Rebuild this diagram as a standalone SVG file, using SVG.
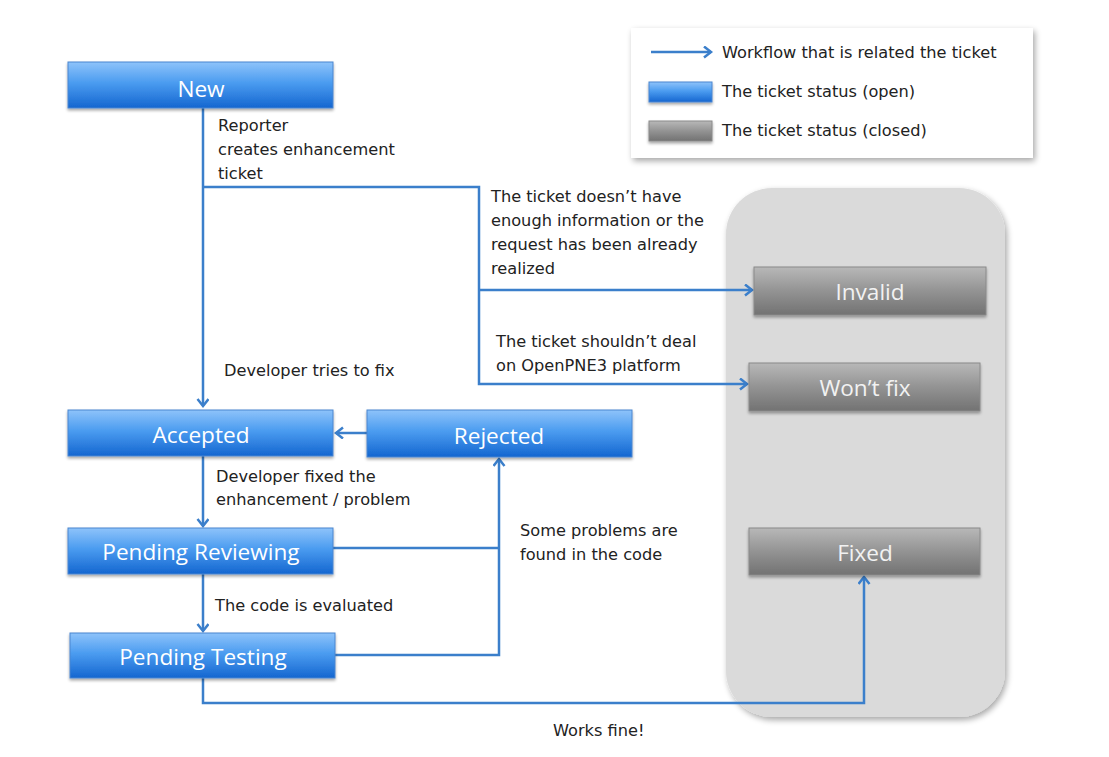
<svg xmlns="http://www.w3.org/2000/svg" width="1109" height="757" viewBox="0 0 1109 757">
<style>
  .lbl { font-family: "DejaVu Sans", "Liberation Sans", sans-serif; font-size: 16.2px; fill: #222; }
  .btxt { font-family: "Open Sans", "Liberation Sans", sans-serif; font-size: 22.6px; fill: #ffffff; text-anchor: middle; }
  .gtxt { font-family: "Open Sans", "Liberation Sans", sans-serif; font-size: 22.6px; fill: #f2f2f2; text-anchor: middle; }
  .blue { fill: url(#gBlue); stroke: #4a86d0; stroke-width: 1; filter: url(#sh); }
  .gray { fill: url(#gGray); stroke: #8a8a8a; stroke-width: 1; filter: url(#sh); }
  .conn { fill: none; stroke: #3b7fcb; stroke-width: 2.5; }
</style>
<defs>
  <linearGradient id="gBlue" x1="0" y1="0" x2="0" y2="1">
    <stop offset="0" stop-color="#8ec3fa"/>
    <stop offset="0.45" stop-color="#4b9cf0"/>
    <stop offset="1" stop-color="#1466d0"/>
  </linearGradient>
  <linearGradient id="gGray" x1="0" y1="0" x2="0" y2="1">
    <stop offset="0" stop-color="#b8b8b8"/>
    <stop offset="0.5" stop-color="#939393"/>
    <stop offset="1" stop-color="#727272"/>
  </linearGradient>
  <filter id="sh" x="-10%" y="-20%" width="120%" height="150%">
    <feGaussianBlur in="SourceAlpha" stdDeviation="1.5"/>
    <feOffset dx="0" dy="2" result="b"/>
    <feComponentTransfer><feFuncA type="linear" slope="0.35"/></feComponentTransfer>
    <feMerge><feMergeNode/><feMergeNode in="SourceGraphic"/></feMerge>
  </filter>
  <filter id="sh2" x="-10%" y="-10%" width="125%" height="130%">
    <feGaussianBlur in="SourceAlpha" stdDeviation="3"/>
    <feOffset dx="2" dy="3" result="b"/>
    <feComponentTransfer><feFuncA type="linear" slope="0.35"/></feComponentTransfer>
    <feMerge><feMergeNode/><feMergeNode in="SourceGraphic"/></feMerge>
  </filter>
  <marker id="arr" markerWidth="12" markerHeight="14" refX="9" refY="6" orient="auto" markerUnits="userSpaceOnUse">
    <path d="M2,0.5 L9,6 L2,11.5" fill="none" stroke="#3b7fcb" stroke-width="2.5"/>
  </marker>
</defs>

<rect width="1109" height="757" fill="#ffffff"/>

<!-- closed-status container -->
<g id="closed-area">
  <rect x="726" y="188" width="279" height="529" rx="46" ry="46" fill="#dadada" filter="url(#sh2)"/>
</g>

<!-- legend -->
<g id="legend">
  <rect x="631" y="28" width="402" height="130" fill="#ffffff" filter="url(#sh2)"/>
  <path d="M651,52 H711" class="conn" marker-end="url(#arr)"/>
  <text class="lbl" x="722" y="58">Workflow that is related the ticket</text>
  <rect x="649" y="82" width="63" height="20" class="blue"/>
  <text class="lbl" x="722" y="97">The ticket status (open)</text>
  <rect x="649" y="121" width="63" height="20" class="gray"/>
  <text class="lbl" x="722" y="136">The ticket status (closed)</text>
</g>

<!-- connectors -->
<g id="connectors">
  <path class="conn" d="M203,108 V406" marker-end="url(#arr)"/>
  <path class="conn" d="M203,187 H479 V384 H747" marker-end="url(#arr)"/>
  <path class="conn" d="M479,290 H752" marker-end="url(#arr)"/>
  <path class="conn" d="M367,433 H336" marker-end="url(#arr)"/>
  <path class="conn" d="M203,456 V526" marker-end="url(#arr)"/>
  <path class="conn" d="M203,574 V631" marker-end="url(#arr)"/>
  <path class="conn" d="M333,548 H499"/>
  <path class="conn" d="M335,655 H499 V459" marker-end="url(#arr)"/>
  <path class="conn" d="M203,678 V703 H864 V577" marker-end="url(#arr)"/>
</g>

<!-- connector labels -->
<g id="labels">
  <text class="lbl" x="218" y="131">Reporter</text>
  <text class="lbl" x="218" y="155">creates enhancement</text>
  <text class="lbl" x="218" y="179">ticket</text>
  <text class="lbl" x="491" y="202">The ticket doesn’t have</text>
  <text class="lbl" x="491" y="226">enough information or the</text>
  <text class="lbl" x="491" y="250">request has been already</text>
  <text class="lbl" x="491" y="274">realized</text>
  <text class="lbl" x="496" y="347">The ticket shouldn’t deal</text>
  <text class="lbl" x="496" y="371">on OpenPNE3 platform</text>
  <text class="lbl" x="224" y="376">Developer tries to fix</text>
  <text class="lbl" x="216" y="482">Developer fixed the</text>
  <text class="lbl" x="216" y="505">enhancement / problem</text>
  <text class="lbl" x="520" y="536">Some problems are</text>
  <text class="lbl" x="520" y="560">found in the code</text>
  <text class="lbl" x="215" y="611">The code is evaluated</text>
  <text class="lbl" x="553" y="736">Works fine!</text>
</g>

<!-- nodes -->
<g id="node-new">
  <rect x="68" y="62" width="265" height="46" class="blue"/>
  <text class="btxt" x="201" y="97">New</text>
</g>
<g id="node-accepted">
  <rect x="68" y="410" width="265" height="46" class="blue"/>
  <text class="btxt" x="201" y="443">Accepted</text>
</g>
<g id="node-rejected">
  <rect x="367" y="410" width="265" height="47" class="blue"/>
  <text class="btxt" x="499" y="444">Rejected</text>
</g>
<g id="node-pending-reviewing">
  <rect x="68" y="528" width="265" height="46" class="blue"/>
  <text class="btxt" x="201" y="560">Pending Reviewing</text>
</g>
<g id="node-pending-testing">
  <rect x="70" y="633" width="265" height="45" class="blue"/>
  <text class="btxt" x="203" y="665">Pending Testing</text>
</g>
<g id="node-invalid">
  <rect x="754" y="267" width="232" height="48" class="gray"/>
  <text class="gtxt" x="870" y="300">Invalid</text>
</g>
<g id="node-wontfix">
  <rect x="749" y="363" width="231" height="48" class="gray"/>
  <text class="gtxt" x="865" y="396">Won’t fix</text>
</g>
<g id="node-fixed">
  <rect x="749" y="528" width="231" height="47" class="gray"/>
  <text class="gtxt" x="865" y="561">Fixed</text>
</g>
</svg>
